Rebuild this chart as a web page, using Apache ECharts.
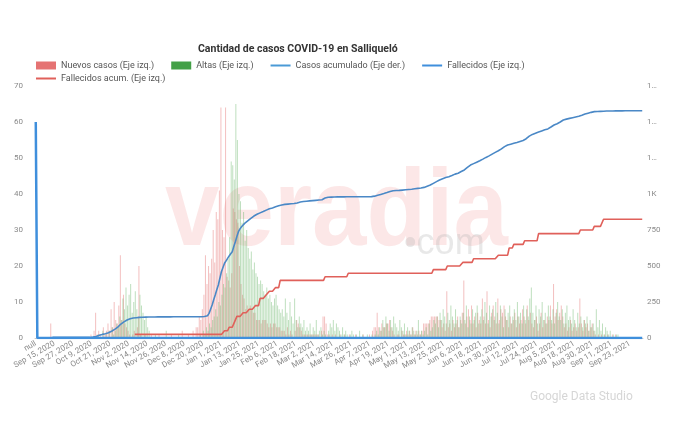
<!DOCTYPE html>
<html>
<head>
<meta charset="utf-8">
<script src="https://cdn.jsdelivr.net/npm/echarts@6/dist/echarts.min.js"></script>
<style>
html,body{margin:0;padding:0;background:#fff;}
#chart{width:690px;height:424px;}
</style>
</head>
<body>
<div id="chart"></div>
<script>
// ---- categories: first category is "null", then daily dates (one date missing in the source) ----
const firstDate = '2020-09-04';
const lastDate = '2021-10-01';
const missingDates = ['2021-08-12'];
const monthNames = ['Jan','Feb','Mar','Apr','May','Jun','Jul','Aug','Sep','Oct','Nov','Dec'];

// ---- series values (index 0 = "null" category) ----
const nuevosCasos = [
null,0,0,0,0,0,0,0,0,0,
4,0,0,0,0,0,0,0,0,0,
0,0,0,0,0,0,0,0,0,0,
0,0,0,0,0,0,1,0,2,7,
1,2,1,0,3,1,2,4,2,8,
3,10,5,4,9,23,5,12,4,3,
2,1,0,1,2,0,3,20,1,0,
0,1,0,0,0,1,0,0,0,0,
1,0,0,0,0,0,0,0,1,0,
0,0,0,0,0,2,0,0,0,1,
0,0,2,0,3,3,6,5,8,12,
23,15,20,18,22,30,21,35,33,41,
64,30,28,64,17,16,14,18,36,35,
33,32,20,15,12,11,8,9,8,9,
8,7,7,5,5,5,4,5,5,5,
4,3,4,3,4,4,3,3,3,2,
2,2,1,3,1,2,1,0,2,5,
4,3,2,1,1,1,1,1,1,1,
1,1,1,1,0,2,6,6,4,1,
1,0,1,0,1,0,0,1,0,0,
1,0,0,1,0,0,0,1,0,0,
0,0,1,0,0,0,1,0,2,3,
3,7,3,2,4,3,3,4,4,5,
3,2,1,0,1,1,0,2,1,1,
2,1,2,1,3,1,2,1,2,1,
2,4,4,4,4,5,6,6,6,6,
6,5,5,3,4,2,13,3,4,2,
5,3,4,6,3,5,7,16,4,6,
8,5,9,4,6,3,7,5,4,11,
6,4,13,5,3,7,9,6,4,11,
5,8,7,9,6,5,3,6,4,5,
7,3,6,4,5,8,6,4,9,5,
7,4,3,5,6,2,4,7,3,5,
4,6,5,9,4,15,6,8,5,7,
9,6,3,4,2,3,5,2,3,4,
2,3,11,4,2,5,3,4,2,3,
4,2,1,0,1,0,1,0,1,0,
1,0,0,1,0,1,0,0,0,0,
0,0,0,0,0,0,0,0,0,0,
0,0,0
];

const altas = [
null,0,0,0,0,0,0,0,0,0,
0,0,0,0,0,0,0,0,0,0,
0,0,0,0,0,0,0,0,0,0,
0,0,0,0,0,0,0,0,0,0,
1,0,0,2,0,1,0,2,0,3,
1,2,4,3,6,5,11,8,14,9,
12,15,7,10,13,8,6,12,9,7,
5,6,3,2,0,0,0,1,0,0,
0,0,0,0,2,0,0,0,0,0,
0,0,1,0,0,0,0,0,0,0,
0,0,0,0,0,0,1,0,2,1,
3,2,4,3,5,6,8,6,10,9,
12,15,14,18,22,28,49,48,44,65,
55,40,38,32,35,27,30,25,22,24,
19,21,18,17,15,16,15,13,12,14,
11,12,10,9,11,12,9,8,7,8,
6,11,7,5,10,6,4,11,5,3,
6,4,3,5,2,3,2,4,1,3,
2,5,1,2,3,1,2,1,0,2,
4,3,5,2,4,3,2,1,3,1,
2,1,0,1,2,1,0,1,0,2,
0,1,0,0,1,0,0,1,0,1,
2,1,3,2,5,3,6,4,2,5,
3,6,4,3,2,5,3,2,4,1,
3,2,1,3,2,1,2,5,1,2,
1,2,3,1,4,2,3,5,4,6,
3,7,5,8,6,4,7,5,9,6,
4,8,5,3,6,4,7,5,9,3,
6,4,8,5,7,9,4,6,8,5,
10,7,4,9,6,8,5,10,7,4,
9,6,3,8,5,7,9,4,6,8,
5,10,6,7,4,9,5,8,6,11,
14,7,5,9,4,8,6,10,5,7,
4,9,6,5,8,4,7,10,6,5,
8,4,7,9,5,6,4,8,5,3,
7,4,6,3,5,4,6,2,5,3,
4,2,8,3,5,2,4,1,3,2,
1,2,0,1,0,1,1,0,0,0,
0,0,0,0,0,0,0,0,0,0,
0,0,0
];

const casosAcumulado = [
null,0,0,0,0,0,0,0,0,0,
4,4,4,4,4,4,4,4,4,4,
4,4,4,4,4,4,4,4,4,4,
4,4,4,4,4,4,4,6,8,11,
15,19,22,25,27,30,33,37,42,47,
53,60,67,76,86,97,105,112,119,125,
130,134,137,139,140,141,142,143,144,144,
145,145,145,146,146,146,146,146,147,147,
147,147,147,147,147,147,147,147,148,148,
148,148,148,148,148,148,148,148,148,148,
148,148,148,148,148,148,148,148,149,149,
149,155,171,200,229,265,299,335,368,415,
460,490,519,536,553,570,585,599,635,669,
705,738,758,773,785,796,805,813,821,830,
839,847,854,859,864,869,873,878,883,888,
893,897,900,903,907,911,914,918,921,924,
926,928,929,930,931,932,933,934,935,938,
942,945,947,948,949,950,951,952,953,954,
955,956,957,958,958,960,966,972,976,977,
978,978,979,979,979,980,980,980,980,980,
980,981,981,981,981,981,981,981,981,981,
981,981,981,981,981,981,982,982,982,985,
988,991,994,997,1000,1003,1006,1010,1014,1018,
1021,1023,1023,1024,1025,1025,1026,1027,1028,1029,
1030,1031,1032,1033,1034,1036,1037,1039,1040,1042,
1044,1046,1050,1054,1058,1062,1068,1074,1080,1086,
1092,1097,1102,1106,1110,1114,1117,1120,1124,1128,
1133,1138,1141,1144,1150,1156,1161,1167,1176,1185,
1193,1201,1206,1211,1216,1221,1226,1231,1236,1242,
1248,1254,1260,1265,1271,1277,1283,1289,1295,1300,
1306,1313,1321,1329,1335,1340,1343,1346,1349,1352,
1355,1358,1361,1365,1369,1372,1375,1384,1393,1402,
1410,1414,1418,1422,1426,1430,1434,1438,1442,1446,
1449,1452,1458,1465,1472,1479,1484,1488,1491,1500,
1508,1514,1517,1520,1522,1525,1528,1530,1533,1535,
1538,1540,1542,1547,1551,1555,1558,1561,1564,1567,
1570,1572,1573,1573,1574,1574,1575,1575,1575,1576,
1576,1576,1576,1576,1576,1577,1577,1577,1577,1577,
1577,1578,1578,1578,1578,1578,1578,1578,1578,1578,
1578,1578,1578
];

const fallecidos = [
60,0,0,0,0,0,0,0,0,0,
0,0,0,0,0,0,0,0,0,0,
0,0,0,0,0,0,0,0,0,0,
0,0,0,0,0,0,0,0,0,0,
0,0,0,0,0,0,0,0,0,0,
0,0,0,0,0,0,0,0,0,0,
0,0,0,0,0,0,0,0,0,0,
0,0,0,0,0,0,0,0,0,0,
0,0,0,0,0,0,0,0,0,0,
0,0,0,0,0,0,0,0,0,0,
0,0,0,0,0,0,0,0,0,0,
0,0,0,0,0,0,0,0,0,0,
0,0,0,0,0,0,0,0,0,0,
0,0,0,0,0,0,0,0,0,0,
0,0,0,0,0,0,0,0,0,0,
0,0,0,0,0,0,0,0,0,0,
0,0,0,0,0,0,0,0,0,0,
0,0,0,0,0,0,0,0,0,0,
0,0,0,0,0,0,0,0,0,0,
0,0,0,0,0,0,0,0,0,0,
0,0,0,0,0,0,0,0,0,0,
0,0,0,0,0,0,0,0,0,0,
0,0,0,0,0,0,0,0,0,0,
0,0,0,0,0,0,0,0,0,0,
0,0,0,0,0,0,0,0,0,0,
0,0,0,0,0,0,0,0,0,0,
0,0,0,0,0,0,0,0,0,0,
0,0,0,0,0,0,0,0,0,0,
0,0,0,0,0,0,0,0,0,0,
0,0,0,0,0,0,0,0,0,0,
0,0,0,0,0,0,0,0,0,0,
0,0,0,0,0,0,0,0,0,0,
0,0,0,0,0,0,0,0,0,0,
0,0,0,0,0,0,0,0,0,0,
0,0,0,0,0,0,0,0,0,0,
0,0,0,0,0,0,0,0,0,0,
0,0,0,0,0,0,0,0,0,0,
0,0,0,0,0,0,0,0,0,0,
0,0,0,0,0,0,0,0,0,0,
0,0,0
];

const fallecidosAcum = [
null,null,null,null,null,null,null,null,null,null,
null,null,null,null,null,null,null,null,null,null,
null,null,null,null,null,null,null,null,null,null,
null,null,null,null,null,null,null,null,null,null,
null,null,null,null,null,null,null,null,null,null,
null,null,null,null,null,null,null,null,null,null,
null,null,null,null,1,1,1,1,1,1,
1,1,1,1,1,1,1,1,1,1,
1,1,1,1,1,1,1,1,1,1,
1,1,1,1,1,1,1,1,1,1,
1,1,1,1,1,1,1,1,1,1,
1,1,1,1,1,1,1,1,1,1,
1,1,2,2,2,3,3,3,4,4,
6,6,6,6,7,7,7,7,8,8,
8,8,9,9,9,11,11,11,11,12,
12,13,13,13,13,14,14,14,16,16,
16,16,16,16,16,16,16,16,16,16,
16,16,16,16,16,16,16,16,16,16,
16,16,16,16,16,16,16,17,17,17,
17,17,17,17,17,17,17,17,17,17,
17,17,18,18,18,18,18,18,18,18,
18,18,18,18,18,18,18,18,18,18,
18,18,18,18,18,18,18,18,18,18,
18,18,18,18,18,18,18,18,18,18,
18,18,18,18,18,18,18,18,18,18,
18,18,18,18,18,18,18,19,19,19,
19,19,19,19,19,19,20,20,20,20,
20,20,20,20,20,20,21,21,21,21,
21,21,21,22,22,22,22,22,22,22,
22,22,22,22,22,22,22,22,22,23,
23,23,23,23,23,23,25,25,25,26,
26,26,26,26,26,26,27,27,27,27,
27,27,27,27,27,29,29,29,29,29,
29,29,29,29,29,29,29,29,29,29,
29,29,29,29,29,29,29,29,29,29,
29,29,30,30,30,30,30,30,30,30,
30,31,31,31,31,31,31,33,33,33,
33,33,33,33,33,33,33,33,33,33,
33,33,33,33,33,33,33,33,33,33,
33,33,33
];

const leftTicks = [0, 70, 10];      // min, max, interval
const rightTicks = [0, 1750, 250];  // min, max, interval

// ---- build categories ----
function buildCategories() {
  const cats = ['null'];
  const d = new Date(firstDate + 'T12:00:00Z');
  const end = new Date(lastDate + 'T12:00:00Z');
  while (d <= end) {
    const iso = d.toISOString().slice(0, 10);
    if (missingDates.indexOf(iso) < 0) {
      cats.push(monthNames[d.getUTCMonth()] + ' ' + d.getUTCDate() + ', ' + d.getUTCFullYear());
    }
    d.setUTCDate(d.getUTCDate() + 1);
  }
  return cats;
}
const categories = buildCategories();

const FONT = "Roboto, 'Liberation Sans', sans-serif";
const LINE_ICON = 'path://M0,0L20,0L20,2L0,2Z';

const chart = echarts.init(document.getElementById('chart'), null, {renderer: 'canvas'});
const option = {
  animation: false,
  backgroundColor: '#ffffff',
  title: {
    text: 'Cantidad de casos COVID-19 en Salliqueló',
    left: 193, top: 39,
    textStyle: {fontFamily: FONT, fontSize: 10.5, fontWeight: 'bold', color: '#333'}
  },
  graphic: [
    {type: 'text', left: 165, top: 160, z: 0, silent: true, scaleX: 0.89,
     style: {text: 'veradia', font: "bold 110px 'Liberation Sans', Arial, sans-serif", fill: 'rgba(235,70,70,0.13)'}},
    {type: 'text', left: 404, top: 226, z: 0, silent: true,
     style: {text: '•com', font: "36px 'Liberation Sans', Arial, sans-serif", fill: 'rgba(180,180,180,0.30)'}},
    {type: 'text', left: 530, top: 391, z: 0, silent: true,
     style: {text: 'Google Data Studio', font: "12px Roboto, sans-serif", fill: '#d6d6d6'}}
  ],
  legend: [
    {
      left: 31, top: 56, itemWidth: 20, itemHeight: 8, itemGap: 17,
      textStyle: {fontFamily: FONT, fontSize: 9, color: '#555'},
      data: [
        {name: 'Nuevos casos (Eje izq.)', icon: 'rect', itemStyle: {color: '#e57373', opacity: 1}},
        {name: 'Altas (Eje izq.)', icon: 'rect', itemStyle: {color: '#43a047', opacity: 1}},
        {name: 'Casos acumulado (Eje der.)', icon: LINE_ICON, itemStyle: {color: '#4a9ad6'}},
        {name: 'Fallecidos (Eje izq.)', icon: LINE_ICON, itemStyle: {color: '#3f8fdc'}}
      ]
    },
    {
      left: 31, top: 69, itemWidth: 20, itemHeight: 8,
      textStyle: {fontFamily: FONT, fontSize: 9, color: '#555'},
      data: [{name: 'Fallecidos acum. (Eje izq.)', icon: LINE_ICON, itemStyle: {color: '#e0605a'}}]
    }
  ],
  grid: {left: 35, right: 47, top: 86, bottom: 86},
  xAxis: {
    type: 'category',
    data: categories,
    axisLine: {lineStyle: {color: '#c8c8c8'}},
    axisTick: {show: false},
    axisLabel: {interval: 11, rotate: 30, fontSize: 8, color: '#8a8a8a', margin: 5, fontFamily: FONT}
  },
  yAxis: [
    {
      type: 'value', min: leftTicks[0], max: leftTicks[1], interval: leftTicks[2],
      axisLine: {show: false}, axisTick: {show: false}, splitLine: {show: false},
      axisLabel: {fontSize: 8, color: '#8a8a8a', margin: 12, fontFamily: FONT}
    },
    {
      type: 'value', position: 'right', min: rightTicks[0], max: rightTicks[1], interval: rightTicks[2],
      axisLine: {show: false}, axisTick: {show: false}, splitLine: {show: false},
      axisLabel: {fontSize: 8, color: '#8a8a8a', margin: 4, fontFamily: FONT,
        formatter: function (v) { return v < 1000 ? String(v) : (v === 1000 ? '1K' : '1…'); }}
    }
  ],
  series: [
    {name: 'Nuevos casos (Eje izq.)', type: 'bar', yAxisIndex: 0, data: nuevosCasos,
     barGap: '0%', barCategoryGap: '0%', itemStyle: {color: 'rgba(229,115,115,0.45)'}},
    {name: 'Altas (Eje izq.)', type: 'bar', yAxisIndex: 0, data: altas,
     barGap: '0%', barCategoryGap: '0%', itemStyle: {color: 'rgba(92,175,92,0.4)'}},
    {name: 'Casos acumulado (Eje der.)', type: 'line', yAxisIndex: 1, data: casosAcumulado,
     symbol: 'none', lineStyle: {color: '#4a88c6', width: 1.6}, itemStyle: {color: '#4a9ad6'}},
    {name: 'Fallecidos (Eje izq.)', type: 'line', yAxisIndex: 0, data: fallecidos,
     symbol: 'none', lineStyle: {color: '#3f8fdc', width: 2.5}, itemStyle: {color: '#3f8fdc'}},
    {name: 'Fallecidos acum. (Eje izq.)', type: 'line', yAxisIndex: 0, data: fallecidosAcum,
     symbol: 'none', lineStyle: {color: '#e0605a', width: 1.6}, itemStyle: {color: '#e0605a'}}
  ]
};
chart.setOption(option);
</script>
</body>
</html>
